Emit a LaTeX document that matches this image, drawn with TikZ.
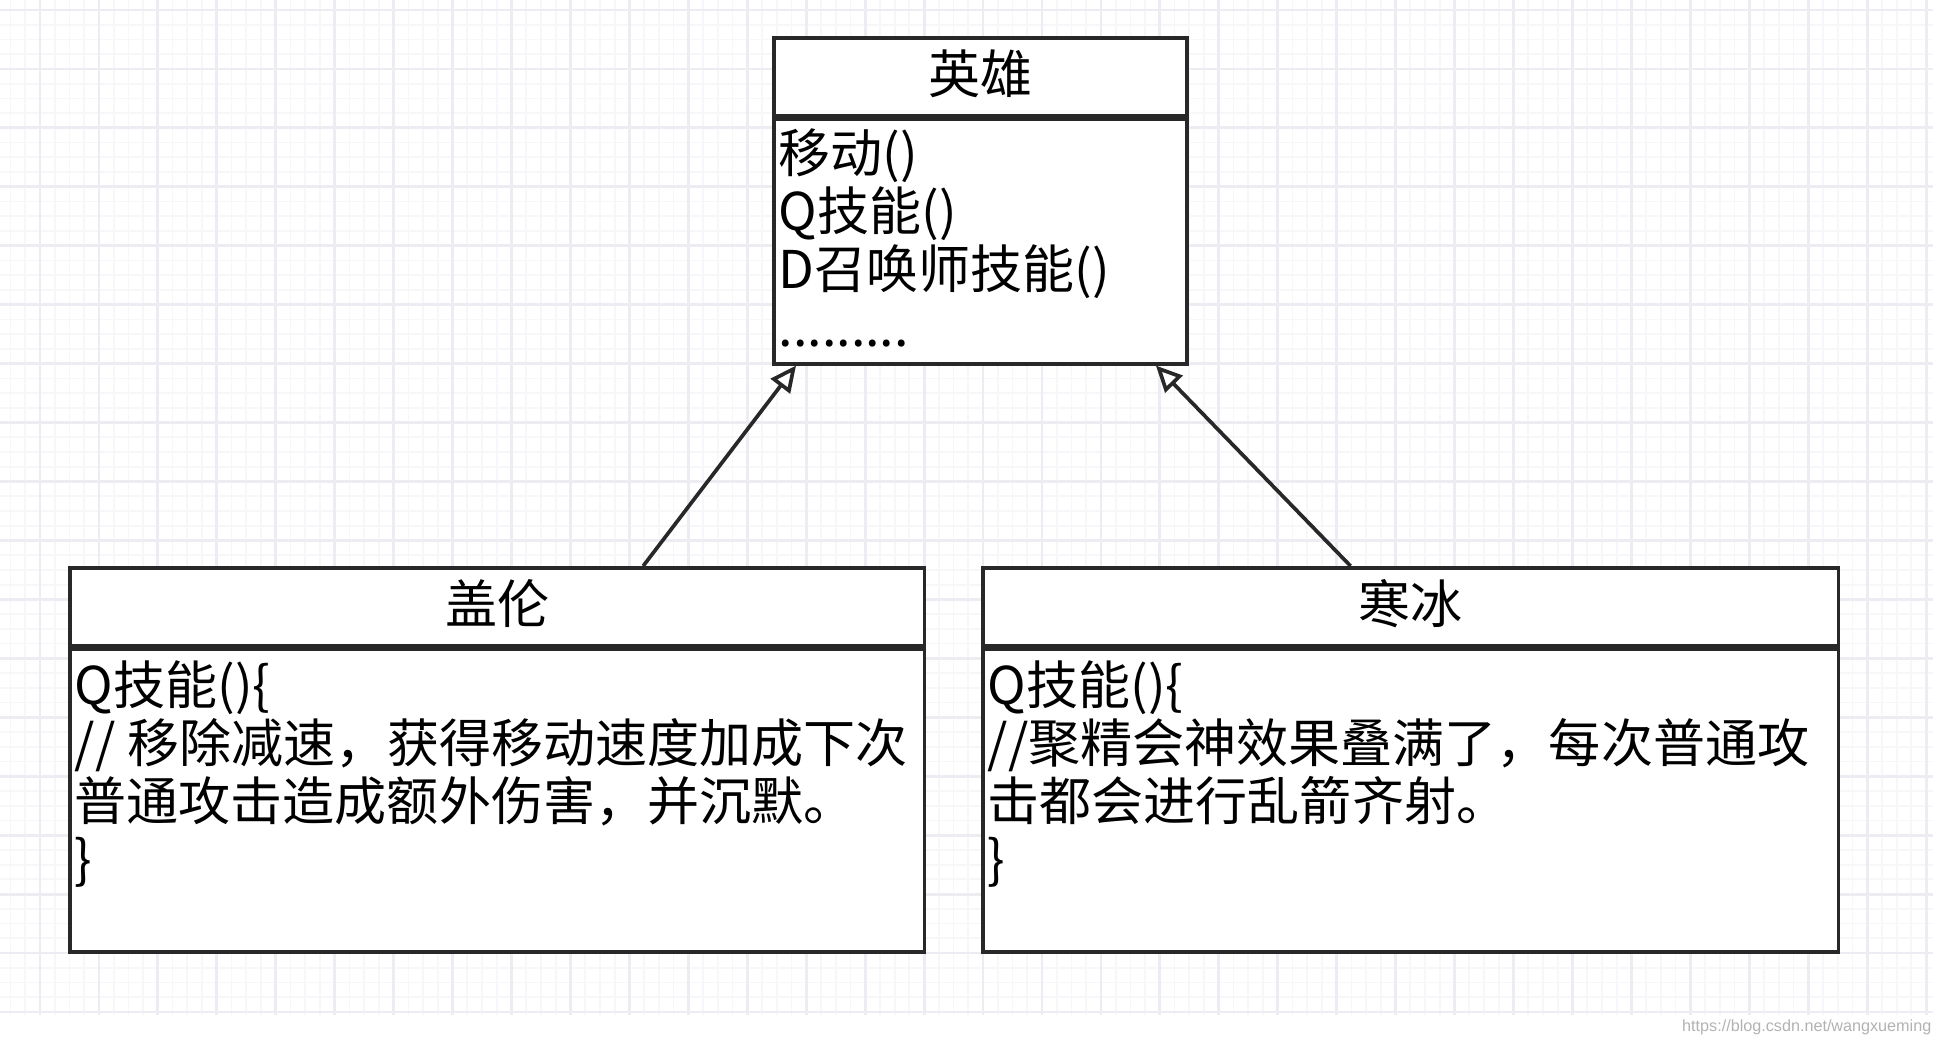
\documentclass[tikz,border=0pt]{standalone}
\usepackage{fontspec}
\setmainfont{Noto Sans CJK SC}
\newfontfamily\urlfont{Liberation Sans}
\usetikzlibrary{arrows.meta,positioning}
\definecolor{gridmajor}{RGB}{236,236,242}
\definecolor{gridminor}{RGB}{247,247,250}
\definecolor{umlline}{RGB}{40,40,40}

\begin{document}
\begin{tikzpicture}[x=0.01cm,y=-0.01cm,
  every node/.style={font=\fontsize{14.8pt}{16.5pt}\selectfont},
  classhead/.style={draw=umlline,line width=1.05pt,fill=white,inner sep=0pt,minimum height=0.78cm,text height=0.96em,text depth=0.04em},
  classbody/.style={draw=umlline,line width=1.05pt,fill=white,inner sep=0pt},
  members/.style={align=left,inner sep=0pt,anchor=base west},
  inherit/.style={draw=umlline,line width=1.05pt,-{Triangle[open,length=0.26cm,width=0.24cm,fill=white]}}]
\useasboundingbox (0,0) rectangle (1948,1042);
% background grid
\foreach \i in {0,...,130} {\draw[gridminor,line width=0.5pt] ({10.53+14.735*\i},0) -- ({10.53+14.735*\i},1015);}
\foreach \j in {0,...,68} {\draw[gridminor,line width=0.5pt] (0,{10+14.735*\j}) -- (1933,{10+14.735*\j});}
\foreach \i in {0,...,32} {\draw[gridmajor,line width=0.8pt] ({40+58.94*\i},0) -- ({40+58.94*\i},1015);}
\foreach \j in {0,...,17} {\draw[gridmajor,line width=0.8pt] (0,{10+58.94*\j}) -- (1933,{10+58.94*\j});}

% classes (members anchored at the baseline of their last line)
\node[classhead,minimum width=4.13cm,anchor=north west] (hero) at (772,36) {英雄};
\node[classbody,minimum width=4.13cm,minimum height=2.44cm,below=0pt of hero] (heroBody) {};
\node[members] (heroOps) at ([xshift=0.06cm,yshift=-2.29cm]heroBody.north west) {移动()\\Q技能()\\D召唤师技能()\\.........};

\node[classhead,minimum width=8.54cm,anchor=north west] (galen) at (68,566) {盖伦};
\node[classbody,minimum width=8.54cm,minimum height=3.02cm,below=0pt of galen] (galenBody) {};
\node[members] (galenOps) at ([xshift=0.06cm,yshift=-2.31cm]galenBody.north west) {Q技能()\{\\// 移除减速，获得移动速度加成下次\\普通攻击造成额外伤害，并沉默。\\\}};

\node[classhead,minimum width=8.55cm,anchor=north west] (hanbing) at (981,566) {寒冰};
\node[classbody,minimum width=8.55cm,minimum height=3.02cm,below=0pt of hanbing] (hanbingBody) {};
\node[members] (hanbingOps) at ([xshift=0.06cm,yshift=-2.31cm]hanbingBody.north west) {Q技能()\{\\//聚精会神效果叠满了，每次普通攻\\击都会进行乱箭齐射。\\\}};

% generalization
\draw[inherit] ([xshift=1.46cm]galen.north) -- ([xshift=0.24cm]heroBody.south west);
\draw[inherit] ([xshift=-0.6cm]hanbing.north) -- ([xshift=-0.33cm]heroBody.south east);

\node[font=\urlfont\fontsize{4.6pt}{5.5pt}\selectfont,text=black!30,anchor=east,inner sep=0pt] (source) at (1932,1027) {https://blog.csdn.net/wangxueming};
\end{tikzpicture}
\end{document}
